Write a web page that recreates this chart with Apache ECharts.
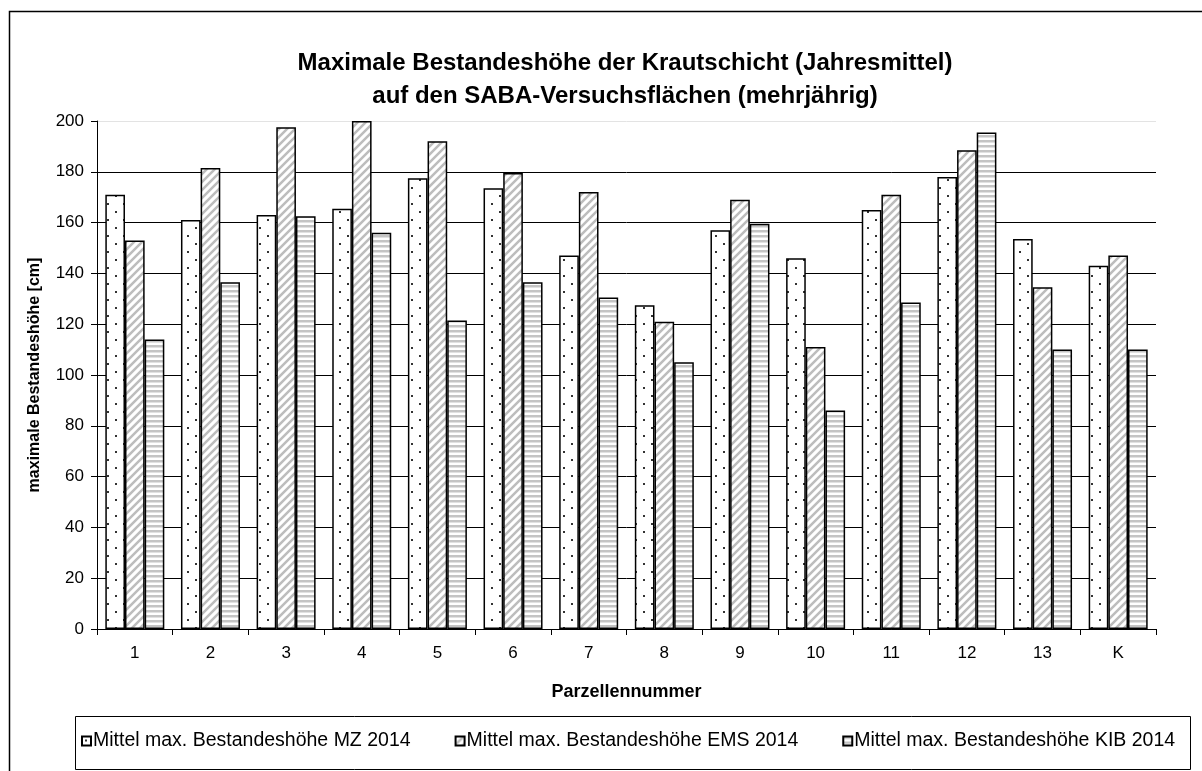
<!DOCTYPE html>
<html>
<head>
<meta charset="utf-8">
<script src="https://cdn.jsdelivr.net/npm/echarts@6/dist/echarts.min.js"></script>
<style>
  html, body { margin: 0; padding: 0; background: #fff; }
  #chart { width: 1202px; height: 771px; }
</style>
</head>
<body>
<div id="chart"></div>
<script>
// Parzellen und Mittelwerte (cm)
var parzellen = ["1", "2", "3", "4", "5", "6", "7", "8", "9", "10", "11", "12", "13", "K"];
var mz2014  = [171, 161, 163, 165.5, 177.5, 173.5, 147, 127.5, 157, 146, 165, 178, 153.5, 143];
var ems2014 = [153, 181.5, 197.5, 200, 192, 179.5, 172, 121, 169, 111, 171, 188.5, 134.5, 147];
var kib2014 = [114, 136.5, 162.5, 156, 121.5, 136.5, 130.5, 105, 159.5, 86, 128.5, 195.5, 110, 110];
var serienNamen = [
  "Mittel max. Bestandeshöhe MZ 2014",
  "Mittel max. Bestandeshöhe EMS 2014",
  "Mittel max. Bestandeshöhe KIB 2014"
];

var fontFam = "'Liberation Sans', Arial, sans-serif";

// Füllmuster wie in Excel
function musterPunkte() {
  var c = document.createElement("canvas");
  c.width = 16; c.height = 16;
  var ctx = c.getContext("2d");
  ctx.fillStyle = "#fff";
  ctx.fillRect(0, 0, 16, 16);
  ctx.fillStyle = "#333";
  ctx.fillRect(3, 3, 2, 2);
  ctx.fillRect(11, 11, 2, 2);
  return c;
}
function musterDiagonal() {
  var c = document.createElement("canvas");
  c.width = 8; c.height = 8;
  var ctx = c.getContext("2d");
  ctx.fillStyle = "#fff";
  ctx.fillRect(0, 0, 8, 8);
  ctx.strokeStyle = "#bdbdbd";
  ctx.lineWidth = 2.5;
  ctx.beginPath();
  ctx.moveTo(-2, 10); ctx.lineTo(10, -2);
  ctx.moveTo(-6, 6); ctx.lineTo(6, -6);
  ctx.moveTo(2, 14); ctx.lineTo(14, 2);
  ctx.stroke();
  return c;
}
function musterHorizontal() {
  var c = document.createElement("canvas");
  c.width = 4; c.height = 5;
  var ctx = c.getContext("2d");
  ctx.fillStyle = "#fff";
  ctx.fillRect(0, 0, 4, 5);
  ctx.fillStyle = "#c4c4c4";
  ctx.fillRect(0, 0, 4, 2.5);
  return c;
}
var muster = [musterPunkte(), musterDiagonal(), musterHorizontal()];
var werte = [mz2014, ems2014, kib2014];

var myChart = echarts.init(document.getElementById("chart"));

var series = serienNamen.map(function (name, i) {
  return {
    name: name,
    type: "bar",
    barGap: "0%",
    barCategoryGap: "22%",
    itemStyle: {
      color: { image: muster[i], repeat: "repeat" },
      borderColor: "#000",
      borderWidth: 1.5
    },
    data: werte[i]
  };
});

// Gitterlinien schwarz, oberste (200) hellgrau
var gitterFarben = [];
for (var k = 0; k < 10; k++) gitterFarben.push("#000");
gitterFarben.push("#e3e3e3");

var option = {
  backgroundColor: "#fff",
  animation: false,
  textStyle: { fontFamily: fontFam },
  title: {
    text: "Maximale Bestandeshöhe der Krautschicht (Jahresmittel)\nauf den SABA-Versuchsflächen (mehrjährig)",
    left: 620,
    top: 42,
    textAlign: "center",
    textStyle: { fontSize: 24, fontWeight: "bold", color: "#000", lineHeight: 33, fontFamily: fontFam }
  },
  grid: { left: 97, right: 46, top: 121, bottom: 142 },
  legend: {
    left: 81,
    top: 731,
    padding: 0,
    icon: "rect",
    itemWidth: 9,
    itemHeight: 9,
    itemGap: 44,
    textStyle: { fontSize: 19.5, color: "#000", fontFamily: fontFam, padding: [0, 0, 0, -3] },
    data: serienNamen
  },
  xAxis: {
    type: "category",
    data: parzellen,
    name: "Parzellennummer",
    nameLocation: "middle",
    nameGap: 54,
    nameTextStyle: { fontSize: 18, fontWeight: "bold", color: "#000" },
    axisLine: { lineStyle: { color: "#000", width: 1 } },
    axisTick: { show: true, length: 6, lineStyle: { color: "#000" } },
    axisLabel: { fontSize: 17, color: "#000", margin: 16 },
    splitLine: { show: false }
  },
  yAxis: {
    type: "value",
    min: 0,
    max: 200,
    interval: 20,
    name: "maximale Bestandeshöhe [cm]",
    nameLocation: "middle",
    nameGap: 54,
    nameTextStyle: { fontSize: 16, fontWeight: "bold", color: "#000" },
    axisLine: { show: true, lineStyle: { color: "#000", width: 1 } },
    axisTick: { show: true, length: 6, lineStyle: { color: "#000" } },
    axisLabel: { fontSize: 17, color: "#000", margin: 13 },
    splitLine: { show: true, lineStyle: { color: gitterFarben, width: 1 } }
  },
  graphic: [
    {
      type: "rect",
      shape: { x: 9.5, y: 11.5, width: 1250, height: 800 },
      style: { fill: "none", stroke: "#000", lineWidth: 1.5 },
      silent: true,
      z: -1
    },
    {
      type: "rect",
      shape: { x: 75.5, y: 716.5, width: 1115, height: 53 },
      style: { fill: "none", stroke: "#000", lineWidth: 1 },
      silent: true,
      z: -1
    }
  ],
  series: series
};

myChart.setOption(option, true);
</script>
</body>
</html>
